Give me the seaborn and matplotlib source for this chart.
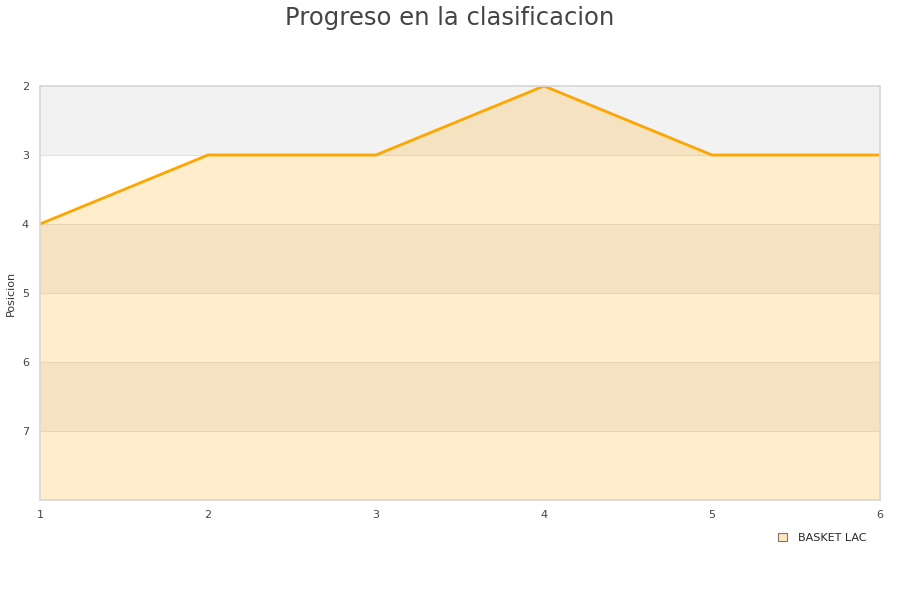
import pandas as pd
import matplotlib.pyplot as plt
import seaborn as sns

# Datos
jornadas = [1, 2, 3, 4, 5, 6]
posiciones = [4, 3, 3, 2, 3, 3]
equipo = "BASKET LAC"

df = pd.DataFrame({"jornada": jornadas, "posicion": posiciones})

sns.set_theme(style="white")
plt.rcParams['font.family'] = ['DejaVu Sans']

fig = plt.figure(figsize=(9, 6), dpi=100)
ax = fig.add_axes([40 / 900, 1 - 500 / 600, 840 / 900, 414 / 600])

y_min, y_max = 2, 8
# bandas alternas de fondo
for i, y0 in enumerate(range(y_min, y_max)):
    if i % 2 == 0:
        ax.axhspan(y0, y0 + 1, color='#f2f2f2', zorder=0, lw=0)
for y0 in range(y_min + 1, y_max):
    ax.axhline(y0, color='#e2e2e2', lw=0.8, zorder=0.5)

ax.fill_between(df['jornada'], df['posicion'], y_max, color='orange', alpha=0.2, lw=0, zorder=1)
sns.lineplot(data=df, x='jornada', y='posicion', ax=ax, color='orange', linewidth=2, zorder=2,
             label=equipo)

ax.set_xlim(1, 6)
ax.set_ylim(y_max, y_min)
ax.set_xticks(jornadas)
ax.set_yticks(range(y_min, y_max))
ax.tick_params(axis='x', labelsize=8, colors='#444444', length=0, pad=7)
ax.tick_params(axis='y', labelsize=8, colors='#444444', length=0, pad=8)
ax.set_xlabel("")
ax.set_ylabel("")
fig.text(11 / 900, 1 - 293 / 600, "Posicion", rotation=90, fontsize=8, color='#333333',
         ha='center', va='center')
for s in ax.spines.values():
    s.set_color('#d8d8d8')

ax.legend(handles=[plt.Rectangle((0, 0), 1, 1, facecolor='#ffe7bd', edgecolor='#777777', lw=0.8)],
          labels=[equipo], loc='upper right', bbox_to_anchor=(0.996, -0.055), frameon=False,
          fontsize=8, handlelength=0.8, handleheight=0.8, handletextpad=1.0)

fig.suptitle("Progreso en la clasificacion", fontsize=17.5, color='#444444', y=0.99)

plt.savefig("out.png", dpi=100)
plt.close()
